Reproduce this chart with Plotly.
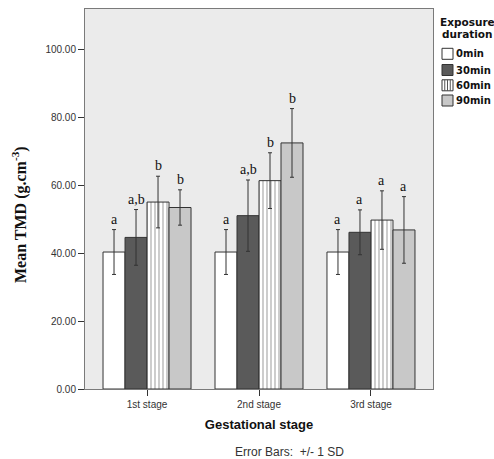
import plotly.graph_objects as go

stages = ["1st stage", "2nd stage", "3rd stage"]
durations = ["0min", "30min", "60min", "90min"]

mean_0 = [40.3, 40.3, 40.3]
mean_30 = [44.6, 51.0, 46.1]
mean_60 = [55.0, 61.3, 49.7]
mean_90 = [53.4, 72.4, 46.8]

sd_0 = [6.6, 6.6, 6.6]
sd_30 = [8.2, 10.5, 6.6]
sd_60 = [7.6, 8.2, 8.6]
sd_90 = [5.2, 10.1, 9.8]

sig_0 = ["a", "a", "a"]
sig_30 = ["a,b", "a,b", "a"]
sig_60 = ["b", "b", "a"]
sig_90 = ["b", "b", "a"]

yticks = [0, 20, 40, 60, 80, 100]

means = [mean_0, mean_30, mean_60, mean_90]
sds = [sd_0, sd_30, sd_60, sd_90]
sigs = [sig_0, sig_30, sig_60, sig_90]

fills = ["#ffffff", "#5a5a5a", "#ffffff", "#c8c8c8"]
patterns = [None, None, dict(shape="|", fgcolor="#555555", bgcolor="#ffffff", size=4, solidity=0.3), None]

# figure geometry (page margin removed so figure fills the window)
W, H = 494, 459
ML, MR, MT, MB = 85, 61, 9, 70
PW, PH = W - ML - MR, H - MT - MB


def px(x):
    return (x - ML) / PW


def py(y):
    return (H - MB - y) / PH


bargap = 0.214
fig = go.Figure()
for k, d in enumerate(durations):
    marker = dict(color=fills[k], line=dict(color="#333333", width=1))
    if patterns[k]:
        marker["pattern"] = patterns[k]
    fig.add_trace(go.Bar(
        name=d, x=stages, y=means[k], showlegend=False,
        marker=marker,
        error_y=dict(type="data", array=sds[k], visible=True, color="#333333", thickness=1, width=2),
    ))

w = (1 - bargap) / len(durations)
annotations = []
for k in range(len(durations)):
    for i in range(len(stages)):
        annotations.append(dict(
            x=i + (k - (len(durations) - 1) / 2) * w, y=means[k][i] + sds[k][i],
            xref="x", yref="y", text=sigs[k][i], showarrow=False,
            xanchor="center", yanchor="bottom", yshift=1,
            font=dict(family="Liberation Serif, Times New Roman, serif", size=14, color="#111111"),
        ))
annotations.append(dict(
    x=px(289), y=py(452), xref="paper", yref="paper", text="Error Bars:  +/- 1 SD",
    showarrow=False, xanchor="center", yanchor="middle",
    font=dict(family="Arial, Liberation Sans, sans-serif", size=12, color="#333333"),
))
# y-axis title
annotations.append(dict(
    x=px(19), y=py(215), xref="paper", yref="paper", text="Mean TMD (g.cm<sup>-3</sup>)",
    showarrow=False, xanchor="center", yanchor="middle", textangle=-90,
    font=dict(family="Liberation Serif, Times New Roman, serif", size=16, color="#111111", weight="bold"),
))

# legend drawn as annotations and swatch shapes
leg_font = dict(family="DejaVu Sans, Verdana, sans-serif", size=10.5, color="#111111", weight="bold")
for txt, yy in [("Exposure", 22.0), ("duration", 34.0)]:
    annotations.append(dict(x=px(467.5), y=py(yy), xref="paper", yref="paper", text=txt,
                            showarrow=False, xanchor="center", yanchor="middle", font=leg_font))
shapes = []
item_y = [53.8, 70.0, 85.3, 100.5]
sw_l, sw_r, half = 442, 453, 5.5
for k, d in enumerate(durations):
    yc = item_y[k]
    shapes.append(dict(type="rect", xref="paper", yref="paper",
                       x0=px(sw_l), x1=px(sw_r), y0=py(yc + half), y1=py(yc - half),
                       fillcolor=fills[k], line=dict(color="#333333", width=1)))
    if patterns[k]:
        for f in (0.25, 0.5, 0.75):
            xx = sw_l + f * (sw_r - sw_l)
            shapes.append(dict(type="line", xref="paper", yref="paper",
                               x0=px(xx), x1=px(xx), y0=py(yc + half), y1=py(yc - half),
                               line=dict(color="#555555", width=1)))
    annotations.append(dict(x=px(454.5), y=py(yc), xref="paper", yref="paper", text=d,
                            showarrow=False, xanchor="left", yanchor="middle",
                            font=dict(family="DejaVu Sans, Verdana, sans-serif", size=10, color="#111111", weight="bold")))

fig.update_layout(
    width=W, height=H,
    margin=dict(l=ML, r=MR, t=MT, b=MB, autoexpand=False),
    barmode="group", bargap=bargap, bargroupgap=0,
    plot_bgcolor="#ebebeb", paper_bgcolor="#ffffff",
    font=dict(family="Arial, Liberation Sans, sans-serif", color="#333333"),
    annotations=annotations,
    shapes=shapes,
    showlegend=False,
)
fig.update_yaxes(
    range=[0, 111.8], tickvals=yticks, tickformat=".2f",
    ticks="outside", ticklen=6, tickcolor="#333333",
    showline=True, mirror=True, linecolor="#7a7a7a", linewidth=1,
    showgrid=False, zeroline=False,
    tickfont=dict(size=10, color="#333333"),
)
fig.update_xaxes(
    range=[-0.554, 2.554],
    ticks="outside", ticklen=6, tickcolor="#333333",
    showline=True, mirror=True, linecolor="#7a7a7a", linewidth=1,
    showgrid=False, zeroline=False,
    tickfont=dict(size=10, color="#333333"),
    title=dict(text="Gestational stage", standoff=10,
               font=dict(size=13, color="#111111", weight="bold")),
)

fig.write_html(
    "out.html",
    config={"displayModeBar": False},
    post_script="document.body.style.margin='0';document.body.style.overflow='hidden';",
)
